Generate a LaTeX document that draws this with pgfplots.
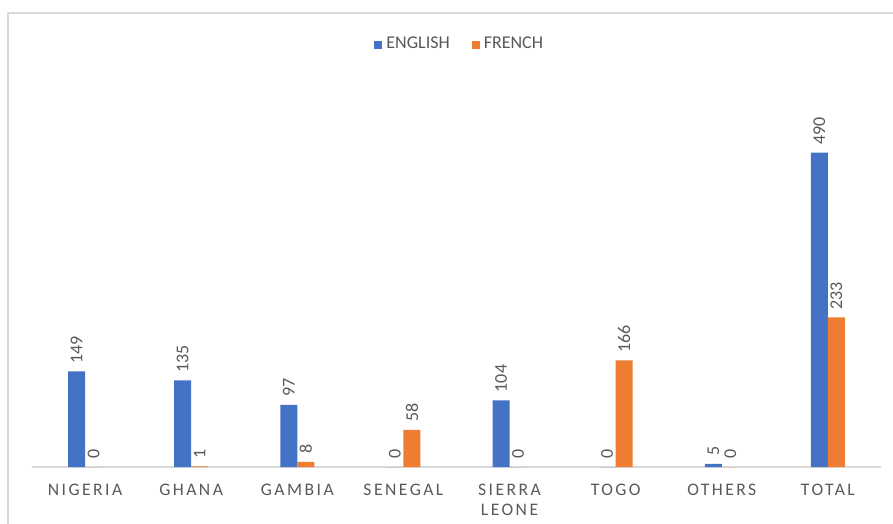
\documentclass[border=0pt]{standalone}
\usepackage{pgfplots}
\pgfplotsset{compat=1.18}
\usepackage{fontspec}
\setmainfont{Carlito}
\definecolor{xblue}{HTML}{4472C4}
\definecolor{xorange}{HTML}{ED7D31}
\definecolor{xtext}{HTML}{595959}
\definecolor{xgrid}{HTML}{D9D9D9}
\begin{document}
\begin{tikzpicture}
\useasboundingbox (-16pt,-28.5pt) rectangle (430.5pt,233.5pt);
\draw[xgrid, line width=1.2pt] (-12pt,-28.5pt) -- (-12pt,227pt) -- (430.5pt,227pt);
\begin{axis}[
  scale only axis,
  width=424.5pt, height=192.5pt,
  ymin=0, ymax=600,
  xmin=-0.5, xmax=7.5,
  ybar=0pt, bar width=8.5pt,
  axis y line=none,
  axis x line*=bottom,
  x axis line style={xgrid, line width=0.8pt, -},
  xtick={0,1,2,3,4,5,6,7},
  xticklabels={NIGERIA,GHANA,GAMBIA,SENEGAL,SIERRA\\LEONE,TOGO,OTHERS,TOTAL},
  xticklabel style={font=\fontsize{8.8}{10}\selectfont\addfontfeatures{LetterSpace=14}, text=xtext, align=center, yshift=-5pt},
  major tick length=0pt,
  /pgf/number format/assume math mode=true,
  nodes near coords,
  every node near coord/.append style={rotate=90, anchor=west, font=\fontsize{9}{10}\selectfont, text=xtext, xshift=0.5pt},
  legend style={draw=none, at={(0.505,1.098)}, anchor=center, legend columns=2, font=\fontsize{9}{10}\selectfont, text=xtext, /tikz/every even column/.append style={column sep=9pt}},
  legend image code/.code={\fill[#1] (0.06cm,-0.08cm) rectangle (0.2cm,0.06cm);},
  clip=false,
]
\addplot[fill=xblue, draw=none] coordinates {(0,149) (1,135) (2,97) (3,0) (4,104) (5,0) (6,5) (7,490)};
\addplot[fill=xorange, draw=none] coordinates {(0,0) (1,1) (2,8) (3,58) (4,0) (5,166) (6,0) (7,233)};
\legend{ENGLISH,FRENCH}
\end{axis}
\end{tikzpicture}
\end{document}
